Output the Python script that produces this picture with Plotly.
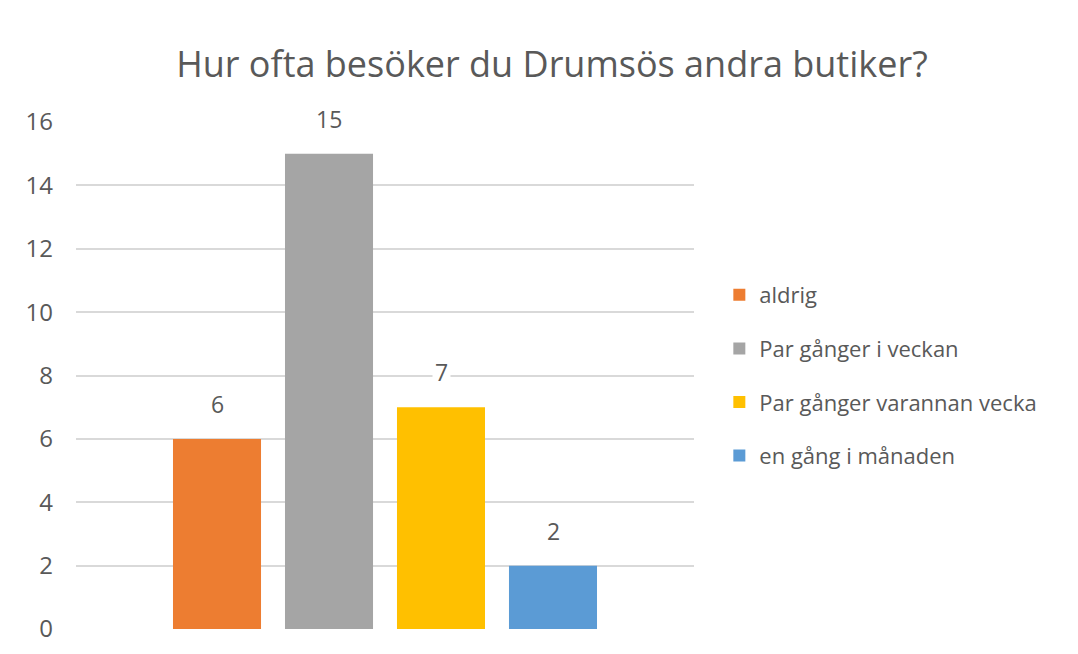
import plotly.graph_objects as go

# Survey answers: how often respondents visit the other Drumsö shops
categories = ["aldrig", "Par gånger i veckan", "Par gånger varannan vecka", "en gång i månaden"]
counts = [6, 15, 7, 2]
colors = ["#ED7D31", "#A5A5A5", "#FFC000", "#5B9BD5"]
y_ticks = [0, 2, 4, 6, 8, 10, 12, 14, 16]

FONT = "Open Sans"
TEXT_GREY = "#595959"

fig = go.Figure()
for i, (cat, val, col) in enumerate(zip(categories, counts, colors)):
    fig.add_trace(go.Bar(
        x=[cat], y=[val], name=cat,
        marker=dict(color=col, line=dict(width=0)),
        width=0.786,
        legendgroup=f"g{i}",
        hoverinfo="x+y",
    ))
    # value label floating above each bar, on a white patch over the gridlines
    fig.add_annotation(
        x=cat, y=val, text=str(val), showarrow=False,
        yanchor="bottom", yshift=16,
        bgcolor="white", borderpad=2,
        font=dict(family=FONT, size=23, color=TEXT_GREY),
    )

fig.update_layout(
    width=1078, height=654,
    paper_bgcolor="white", plot_bgcolor="white",
    margin=dict(l=76, r=384, t=122, b=25, autoexpand=False),
    barmode="overlay",
    showlegend=True,
    title=dict(
        text="Hur ofta besöker du Drumsös andra butiker?",
        x=0.512, xref="container", xanchor="center",
        y=1 - 64 / 654, yref="container", yanchor="middle",
        font=dict(family=FONT, size=36, color=TEXT_GREY),
    ),
    legend=dict(
        x=1.041, xanchor="left", y=0.50, yanchor="middle",
        font=dict(family=FONT, size=22, color=TEXT_GREY),
        tracegroupgap=22, itemwidth=30,
        bgcolor="rgba(0,0,0,0)",
    ),
    xaxis=dict(
        type="category", range=[-1.259, 4.259],
        showticklabels=False, showgrid=False, zeroline=False,
        showline=False, ticks="", fixedrange=True,
    ),
    yaxis=dict(
        range=[0, 16], tickvals=y_ticks,
        showgrid=True, gridcolor="#D9D9D9", gridwidth=1.5,
        zeroline=False, showline=False, ticks="",
        ticklabelstandoff=22,
        tickfont=dict(family=FONT, size=24, color=TEXT_GREY),
    ),
)

fig.write_html("out.html")
